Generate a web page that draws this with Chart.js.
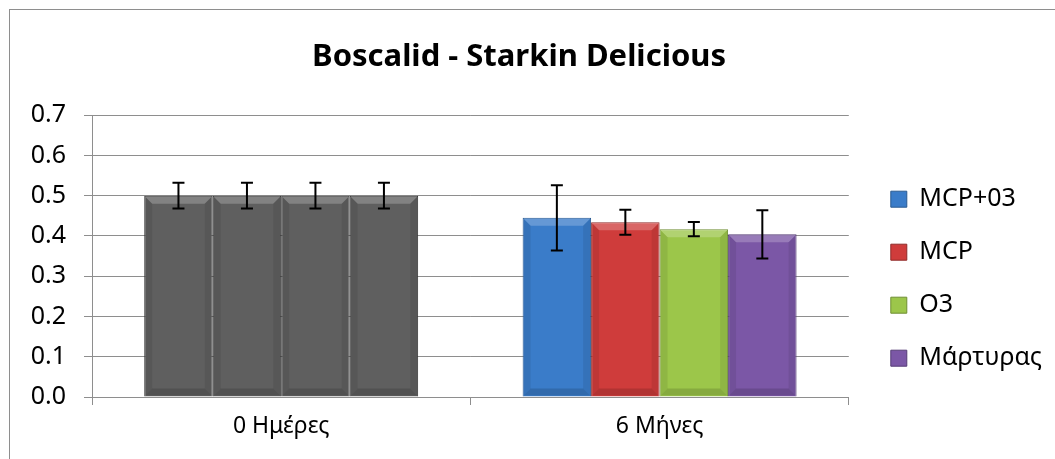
<!DOCTYPE html>
<html>
<head>
<meta charset="utf-8">
<script src="https://cdn.jsdelivr.net/npm/chart.js@4.4.1/dist/chart.umd.min.js"></script>
<style>
    html, body { margin: 0; padding: 0; background: #fff; }
    #frame { position: absolute; left: 9px; top: 9px; width: 1100px; height: 500px; border: 1px solid #8e8e8e; }
    #wrap { position: absolute; left: 0; top: 0; width: 1055px; height: 459px; }
</style>
</head>
<body>
<div id="frame"></div>
<div id="wrap"><canvas id="myChart"></canvas></div>
<script>
const categories = ['0 Ημέρες', '6 Μήνες'];
const seriesNames = ['MCP+03', 'MCP', 'O3', 'Μάρτυρας'];
const seriesColors = ['#3a7cc9', '#cf3c3b', '#9cc64a', '#7b57a6'];
const seriesBorders = ['#2a5a92', '#8f2a29', '#6f8f33', '#553c76'];
const dayZeroColor = '#5f5f5f';

const mcpO3 = [0.50, 0.445];
const mcp = [0.50, 0.434];
const o3 = [0.50, 0.417];
const control = [0.50, 0.404];

const mcpO3Err = [0.032, 0.081];
const mcpErr = [0.032, 0.031];
const o3Err = [0.032, 0.018];
const controlErr = [0.032, 0.060];

const yTicks = [0.0, 0.1, 0.2, 0.3, 0.4, 0.5, 0.6, 0.7];

const seriesValues = [mcpO3, mcp, o3, control];
const seriesErrors = [mcpO3Err, mcpErr, o3Err, controlErr];

Chart.defaults.font.family = '"Noto Sans", "Open Sans", sans-serif';
Chart.defaults.color = '#000';

// error bars drawn on top of the bars, from the error arrays
const errorBars = {
    id: 'errorBars',
    afterDatasetsDraw(chart) {
        const ctx = chart.ctx;
        const y = chart.scales.y;
        ctx.save();
        ctx.strokeStyle = '#000';
        ctx.lineWidth = 2;
        chart.data.datasets.forEach(function (ds, i) {
            const meta = chart.getDatasetMeta(i);
            meta.data.forEach(function (bar, j) {
                const v = ds.data[j];
                const e = seriesErrors[i][j];
                const top = y.getPixelForValue(v + e);
                const bot = y.getPixelForValue(v - e);
                ctx.beginPath();
                ctx.moveTo(bar.x, top);
                ctx.lineTo(bar.x, bot);
                ctx.moveTo(bar.x - 6, top);
                ctx.lineTo(bar.x + 6, top);
                ctx.moveTo(bar.x - 6, bot);
                ctx.lineTo(bar.x + 6, bot);
                ctx.stroke();
            });
        });
        ctx.restore();
    }
};

// soft bevel look on each bar
const bevel = {
    id: 'bevel',
    afterDatasetDraw(chart, args) {
        const ctx = chart.ctx;
        args.meta.data.forEach(function (bar) {
            const l = bar.x - bar.width / 2 + 1;
            const r = bar.x + bar.width / 2 - 1;
            const t = bar.y + 1;
            const b = bar.base - 1;
            const d = 7;
            ctx.save();
            ctx.fillStyle = 'rgba(255,255,255,0.22)';
            ctx.beginPath();
            ctx.moveTo(l, t); ctx.lineTo(r, t); ctx.lineTo(r - d, t + d); ctx.lineTo(l + d, t + d);
            ctx.closePath(); ctx.fill();
            ctx.fillStyle = 'rgba(0,0,0,0.08)';
            ctx.beginPath();
            ctx.moveTo(l, t); ctx.lineTo(l + d, t + d); ctx.lineTo(l + d, b - d); ctx.lineTo(l, b);
            ctx.closePath(); ctx.fill();
            ctx.beginPath();
            ctx.moveTo(r, t); ctx.lineTo(r - d, t + d); ctx.lineTo(r - d, b - d); ctx.lineTo(r, b);
            ctx.closePath(); ctx.fill();
            ctx.fillStyle = 'rgba(0,0,0,0.14)';
            ctx.beginPath();
            ctx.moveTo(l, b); ctx.lineTo(l + d, b - d); ctx.lineTo(r - d, b - d); ctx.lineTo(r, b);
            ctx.closePath(); ctx.fill();
            ctx.restore();
        });
    }
};

// leave a little more room between plot and legend
const legendNudge = {
    id: 'legendNudge',
    afterLayout(chart) {
        chart.legend.left += 14;
        chart.legend.right += 14;
    }
};

const datasets = seriesNames.map(function (name, i) {
    return {
        label: name,
        data: seriesValues[i],
        backgroundColor: function (c) {
            return c.dataIndex === 0 ? dayZeroColor : seriesColors[i];
        },
        borderColor: function (c) {
            return c.dataIndex === 0 ? '#303030' : seriesBorders[i];
        },
        borderWidth: 1,
        categoryPercentage: 0.724,
        barPercentage: 1.0,
    };
});

new Chart(document.getElementById('myChart').getContext('2d'), {
    type: 'bar',
    data: {
        labels: categories,
        datasets: datasets,
    },
    plugins: [bevel, errorBars, legendNudge],
    options: {
        responsive: true,
        maintainAspectRatio: false,
        animation: false,
        layout: { padding: { left: 0, right: 17, top: 0, bottom: 0 } },
        plugins: {
            title: {
                display: true,
                text: 'Boscalid - Starkin Delicious',
                font: { size: 31, weight: 'bold' },
                padding: { top: 39, bottom: 39 },
            },
            legend: {
                display: true,
                position: 'right',
                title: { display: true, text: '', padding: { top: 84, bottom: 0 } },
                labels: {
                    boxWidth: 16,
                    boxHeight: 16,
                    padding: 28,
                    font: { size: 25 },
                    generateLabels: function (chart) {
                        return seriesNames.map(function (name, i) {
                            return {
                                text: name,
                                fillStyle: seriesColors[i],
                                strokeStyle: seriesBorders[i],
                                lineWidth: 1,
                                fontColor: '#000',
                                datasetIndex: i,
                                hidden: false,
                            };
                        });
                    },
                },
            },
            tooltip: { enabled: false },
        },
        scales: {
            x: {
                grid: {
                    display: true,
                    drawOnChartArea: false,
                    drawTicks: true,
                    tickLength: 8,
                    color: '#8e8e8e',
                    offset: true,
                },
                border: { color: '#8e8e8e' },
                ticks: { font: { size: 23 }, padding: 8 },
                afterFit: function (scale) { scale.height = 62; },
            },
            y: {
                min: 0,
                max: 0.7,
                afterBuildTicks: function (scale) {
                    scale.ticks = yTicks.map(function (v) { return { value: v }; });
                },
                ticks: {
                    font: { size: 25 },
                    padding: 18,
                    callback: function (v) { return v.toFixed(1); },
                },
                grid: { color: '#8e8e8e', tickLength: 8 },
                border: { color: '#8e8e8e' },
                afterFit: function (scale) { scale.width = 92; },
            },
        },
    },
});
</script>
</body>
</html>
